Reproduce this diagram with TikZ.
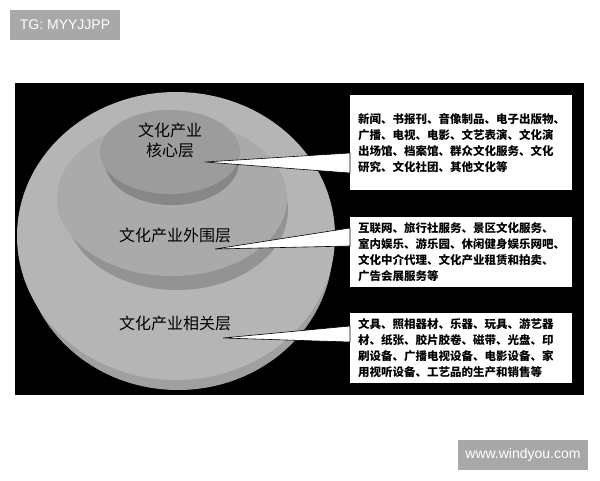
\documentclass[tikz,border=0pt]{standalone}
\usepackage{fontspec}
\newfontfamily\cjk{Noto Sans CJK SC}
\newfontfamily\wmfont{Liberation Sans}
\definecolor{outertop}{HTML}{B5B5B5}
\definecolor{outerrim}{HTML}{A0A0A0}
\definecolor{midtop}{HTML}{AAAAAA}
\definecolor{midrim}{HTML}{939393}
\definecolor{coretop}{HTML}{9C9C9C}
\definecolor{corerim}{HTML}{878787}
\definecolor{wmgray}{HTML}{A8A8A8}
\tikzset{
	listbox/.style={fill=white, anchor=north west, minimum width=222pt, inner xsep=8pt, text width=206pt, align=left, font=\cjk\bfseries\fontsize{11.5}{16}\selectfont},
	layerlabel/.style={align=center, font=\cjk\fontsize{16}{20}\selectfont},
	wedge/.style={fill=white, draw=black, line width=0.6pt, line join=miter},
	watermark/.style={fill=wmgray, text=white, inner sep=0pt, font=\wmfont\fontsize{14}{16}\selectfont}
}
\begin{document}
\begin{tikzpicture}[x=1pt, y=-1pt]
	\useasboundingbox (0,0) rectangle (600,480);
	\fill[white] (0,0) rectangle (600,480);
	\fill[black] (15,83) rectangle (584,395);
	% layers, drawn from the base upward
	\fill[outerrim] (178,246) ellipse [x radius=155, y radius=144];
	\fill[outertop] (176,236) ellipse [x radius=159, y radius=144];
	\fill[midrim] (177,210) ellipse [x radius=111, y radius=80];
	\fill[midtop] (172,198) ellipse [x radius=115, y radius=78];
	\fill[corerim] (172,162) ellipse [x radius=67, y radius=43];
	\fill[coretop] (170,152) ellipse [x radius=70, y radius=42];
	\node[layerlabel] (corelabel) at (170,140) {文化产业\\核心层};
	\node[layerlabel] (periphlabel) at (175,235) {文化产业外围层};
	\node[layerlabel] (relatedlabel) at (175,323) {文化产业相关层};
	\node[listbox, minimum height=95pt] (corebox) at (350,95) {新闻、书报刊、音像制品、电子出版物、\\广播、电视、电影、文艺表演、文化演\\出场馆、档案馆、群众文化服务、文化\\研究、文化社团、其他文化等};
	\node[listbox, minimum height=70pt] (periphbox) at (350,217) {互联网、旅行社服务、景区文化服务、\\室内娱乐、游乐园、休闲健身娱乐网吧、\\文化中介代理、文化产业租赁和拍卖、\\广告会展服务等};
	\node[listbox, minimum height=70pt] (relatedbox) at (350,313) {文具、照相器材、乐器、玩具、游艺器\\材、纸张、胶片胶卷、磁带、光盘、印\\刷设备、广播电视设备、电影设备、家\\用视听设备、工艺品的生产和销售等};
	\coordinate (coretip) at (205,162);
	\coordinate (periphtip) at (215,249);
	\coordinate (relatedtip) at (223,338);
	\draw[wedge] (coretip) -- ([yshift=-58pt]corebox.north west) -- ([yshift=-78pt]corebox.north west) -- cycle;
	\draw[wedge] (periphtip) -- ([yshift=-11pt]periphbox.north west) -- ([yshift=-29pt]periphbox.north west) -- cycle;
	\draw[wedge] (relatedtip) -- ([yshift=-13pt]relatedbox.north west) -- ([yshift=-29pt]relatedbox.north west) -- cycle;
	\fill[white] ([yshift=-57pt,xshift=0.5pt]corebox.north west) rectangle ([yshift=-79pt,xshift=3pt]corebox.north west);
	\fill[white] ([yshift=-10pt,xshift=0.5pt]periphbox.north west) rectangle ([yshift=-30pt,xshift=3pt]periphbox.north west);
	\fill[white] ([yshift=-12pt,xshift=0.5pt]relatedbox.north west) rectangle ([yshift=-30pt,xshift=3pt]relatedbox.north west);
	% marks
	\node[watermark, minimum width=110pt, minimum height=30pt] (tgmark) at (65,25) {TG: MYYJJPP};
	\node[watermark, minimum width=130pt, minimum height=30pt] (sitemark) at (523,455) {www.windyou.com};
\end{tikzpicture}
\end{document}
